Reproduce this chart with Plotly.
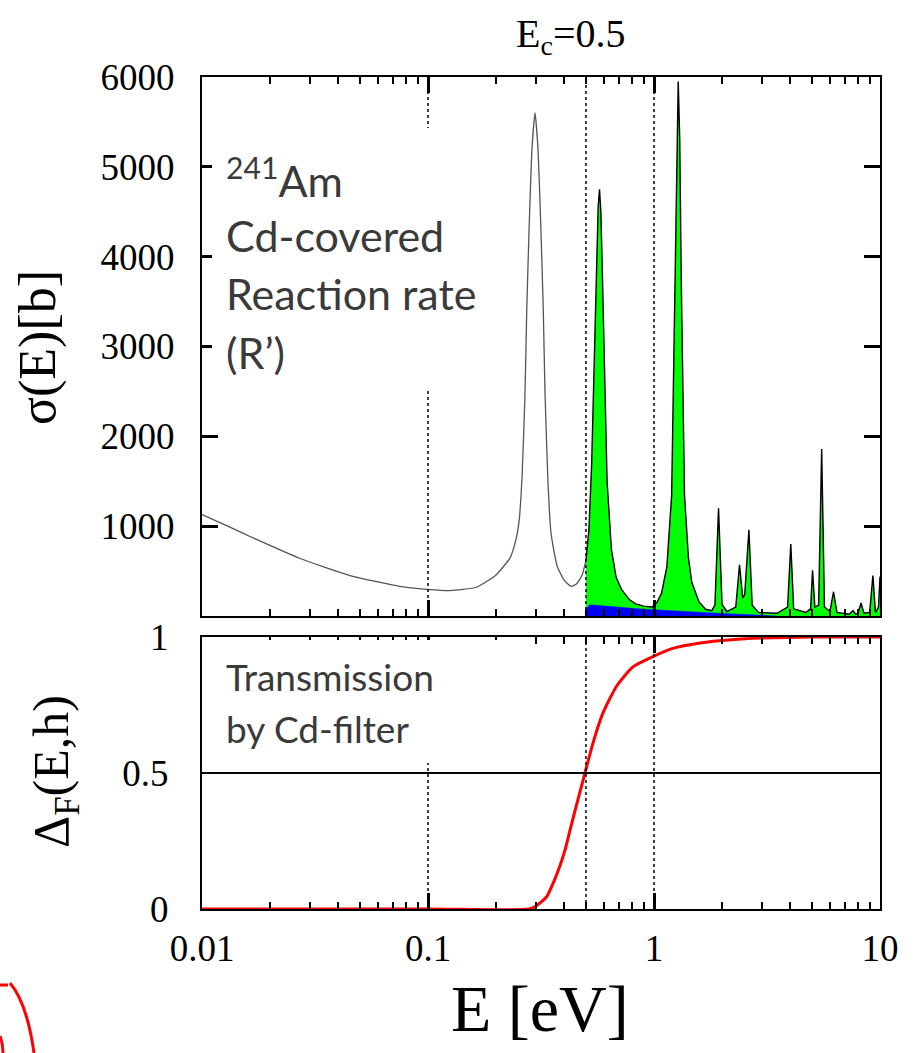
import plotly.graph_objects as go

# ---------------- data ----------------
E_sigma = [0.010, 0.013, 0.0163, 0.0272, 0.0452, 0.0751, 0.099, 0.125, 0.164, 0.200,
           0.231, 0.245, 0.2528, 0.2607, 0.2688, 0.2735, 0.280, 0.2885, 0.2975, 0.3067,
           0.316, 0.3237, 0.3293, 0.3394, 0.3501, 0.3722, 0.400, 0.430, 0.455, 0.480,
           0.500, 0.515, 0.530, 0.545, 0.558, 0.566, 0.574, 0.582, 0.590, 0.605, 0.620, 0.648,
           0.680, 0.720, 0.780, 0.830, 0.900, 0.980, 1.03, 1.08, 1.14, 1.197,
           1.24, 1.262, 1.28, 1.30, 1.32, 1.365, 1.42, 1.47, 1.58, 1.69, 1.80,
           1.86, 1.93, 2.00, 2.10, 2.30, 2.39, 2.47, 2.52, 2.63, 2.72, 2.90,
           3.50, 3.90, 4.03, 4.15, 4.70, 4.93, 5.03, 5.15, 5.35, 5.52, 5.68,
           6.00, 6.23, 6.45, 7.30, 7.60, 7.80, 8.00, 8.24, 8.50, 9.00, 9.30,
           9.55, 9.85, 10.0]
sigma = [1130, 1000, 885, 640, 450, 330, 297, 282, 320, 457,
         650, 850, 1050, 1550, 2500, 3400, 4300, 5200, 5600, 5200,
         4300, 3400, 2500, 1500, 925, 560, 400, 330, 360, 450,
         620, 950, 1700, 2900, 4000, 4550, 4750, 4500, 3900, 2500, 1500, 740,
         430, 290, 180, 135, 110, 100, 150, 254, 550, 1343,
         3760, 5300, 5950, 5300, 3760, 1343, 650, 375, 160, 75, 60,
         120, 1200, 130, 50, 100, 570, 200, 240, 960, 120, 40,
         30, 100, 800, 80, 40, 80, 510, 100, 120, 1860, 100,
         50, 270, 40, 20, 60, 20, 30, 145, 30, 40, 450,
         40, 100, 440]

E_blue = [0.500, 0.505, 0.520, 0.600, 0.700, 0.850, 1.00, 1.30, 1.60, 2.00, 2.50, 3.00, 3.50]
blue = [0, 90, 125, 110, 95, 80, 70, 52, 38, 28, 18, 10, 0]

E_trans = [0.01, 0.10, 0.28, 0.30, 0.335, 0.36, 0.384, 0.405, 0.425, 0.46, 0.495,
           0.537, 0.594, 0.684, 0.807, 0.99, 1.21, 1.60, 2.20, 3.00, 5.00, 10.0]
trans = [0, 0, 0, 0.01, 0.045, 0.10, 0.16, 0.22, 0.29, 0.40, 0.50,
         0.61, 0.72, 0.82, 0.89, 0.928, 0.958, 0.978, 0.99, 0.996, 1.0, 1.0]

E_cut = 0.5
E_dotted = [0.1, 0.5, 1.0]
half_level = 0.5

x_tickvals = [0.01, 0.1, 1, 10]
x_ticktext = ["0.01", "0.1", "1", "10"]
x_minor = [m * d for d in (0.01, 0.1, 1) for m in range(2, 10)]
y1_tickvals = [1000, 2000, 3000, 4000, 5000, 6000]
y2_tickvals = [0, 0.5, 1]
y2_ticktext = ["0", "0.5", "1"]

# ---------------- layout geometry ----------------
W, H = 922, 1053
L, R, T, B = 202, 880, 77, 909


def px(x):
    return (x - L) / (R - L)


def py(y):
    return (B - y) / (B - T)


SERIF = "Liberation Serif"
SANS = "Lato"
TXT = "#3a3a3a"

fig = go.Figure()

# grey cross-section curve below the cut energy
lx = [e for e in E_sigma if e <= E_cut]
ly = [s for e, s in zip(E_sigma, sigma) if e <= E_cut]
fig.add_trace(go.Scatter(x=lx, y=ly, mode="lines",
                         line=dict(color="#555555", width=1.3, shape="spline", smoothing=0.5),
                         xaxis="x", yaxis="y", hoverinfo="skip"))
# green filled part above the cut energy
gx = [e for e in E_sigma if e >= E_cut]
gy = [s for e, s in zip(E_sigma, sigma) if e >= E_cut]
fig.add_trace(go.Scatter(x=gx, y=gy, mode="lines", fill="tozeroy",
                         fillcolor="#00ff00", line=dict(color="black", width=1.4),
                         xaxis="x", yaxis="y", hoverinfo="skip"))
# blue component
fig.add_trace(go.Scatter(x=E_blue, y=blue, mode="lines", fill="tozeroy",
                         fillcolor="#0000ff", line=dict(color="#0000ff", width=0.5),
                         xaxis="x", yaxis="y", hoverinfo="skip"))
# transmission
fig.add_trace(go.Scatter(x=E_trans, y=trans, mode="lines",
                         line=dict(color="#ff0000", width=3, shape="spline", smoothing=0.6),
                         xaxis="x2", yaxis="y2", cliponaxis=False, hoverinfo="skip"))

shapes = []
for e in E_dotted:
    for xr, yr in (("x", "y domain"), ("x2", "y2 domain")):
        shapes.append(dict(type="line", xref=xr, yref=yr, x0=e, x1=e, y0=0, y1=1,
                           line=dict(color="black", width=1.5, dash="dot"), layer="above"))
shapes.append(dict(type="line", xref="x2 domain", yref="y2", x0=0, x1=1,
                   y0=half_level, y1=half_level,
                   line=dict(color="black", width=2), layer="above"))
# white boxes behind the text labels
shapes.append(dict(type="rect", xref="paper", yref="paper",
                   x0=px(212), x1=px(500), y0=py(388), y1=py(128),
                   fillcolor="white", line=dict(width=0), layer="above"))
shapes.append(dict(type="rect", xref="paper", yref="paper",
                   x0=px(207), x1=px(525), y0=py(763), y1=py(640),
                   fillcolor="white", line=dict(width=0), layer="above"))
# red outline fragment in lower-left corner
arc = (f"M {px(0)},{py(985)} L {px(8)},{py(985)} "
       f"M {px(10)},{py(983)} Q {px(27)},{py(1003)} {px(34)},{py(1053)} "
       f"M {px(0)},{py(1036)} Q {px(3)},{py(1044)} {px(3)},{py(1053)}")
shapes.append(dict(type="path", xref="paper", yref="paper", path=arc,
                   line=dict(color="#ff0000", width=3)))


def label(text, xc, yc, size, family=SERIF, angle=0, color="black",
          xanchor="center", yanchor="middle"):
    return dict(text=text, x=px(xc), y=py(yc), xref="paper", yref="paper",
                xanchor=xanchor, yanchor=yanchor, textangle=angle, showarrow=False,
                font=dict(family=family, size=size, color=color))


ann = [
    label("E<sub>c</sub>=0.5", 570, 36, 40),
    label("σ(E)[b]", 38, 348, 52, angle=-90),
    label("Δ<sub>F</sub>(E,h)", 55, 772, 50, angle=-90),
    label("E [eV]", 540, 1008, 66),
]
top_lines = [("<sup>241</sup>Am", 178), ("Cd-covered", 235), ("Reaction rate", 293), ("(R’)", 352)]
for t, yc in top_lines:
    ann.append(label(t, 224, yc, 43, family=SANS, color=TXT, xanchor="left"))
bot_lines = [("Transmission", 676), ("by Cd-filter", 728)]
for t, yc in bot_lines:
    ann.append(label(t, 224, yc, 37, family=SANS, color=TXT, xanchor="left"))

tickfont = dict(family=SERIF, size=37, color="black")
xcommon = dict(type="log", range=[-2, 1], showline=True, linecolor="black", linewidth=2,
               mirror="allticks", ticks="inside", ticklen=16, tickwidth=2.5, tickcolor="black",
               tickmode="array", tickvals=x_tickvals, ticktext=x_ticktext,
               minor=dict(tickmode="array", tickvals=x_minor, ticks="inside", ticklen=7,
                          tickwidth=2, tickcolor="black", showgrid=False),
               showgrid=False, zeroline=False, tickfont=tickfont)

fig.update_layout(
    width=W, height=H,
    margin=dict(l=L, r=W - R, t=T, b=H - B, pad=0),
    paper_bgcolor="white", plot_bgcolor="white",
    showlegend=False,
    xaxis=dict(**xcommon, anchor="y", showticklabels=False),
    xaxis2=dict(**xcommon, anchor="y2", showticklabels=True, ticklabelstandoff=6),
    yaxis=dict(domain=[py(616), 1], range=[0, 6000], showline=True, linecolor="black",
               linewidth=2, mirror="allticks", ticks="inside", ticklen=16, tickwidth=2.5,
               tickcolor="black", tickmode="array", tickvals=y1_tickvals,
               showgrid=False, zeroline=False, tickfont=tickfont, ticklabelstandoff=18,
               anchor="x"),
    yaxis2=dict(domain=[0, py(637)], range=[0, 1], showline=True, linecolor="black",
                linewidth=2, mirror=True, ticks="", tickmode="array", tickvals=y2_tickvals,
                ticktext=y2_ticktext, showgrid=False, zeroline=False, tickfont=tickfont,
                ticklabelstandoff=24, anchor="x2"),
    shapes=shapes,
    annotations=ann,
)

fig.write_html("out.html", config={"displayModeBar": False},
               post_script="document.body.style.margin='0px';")
